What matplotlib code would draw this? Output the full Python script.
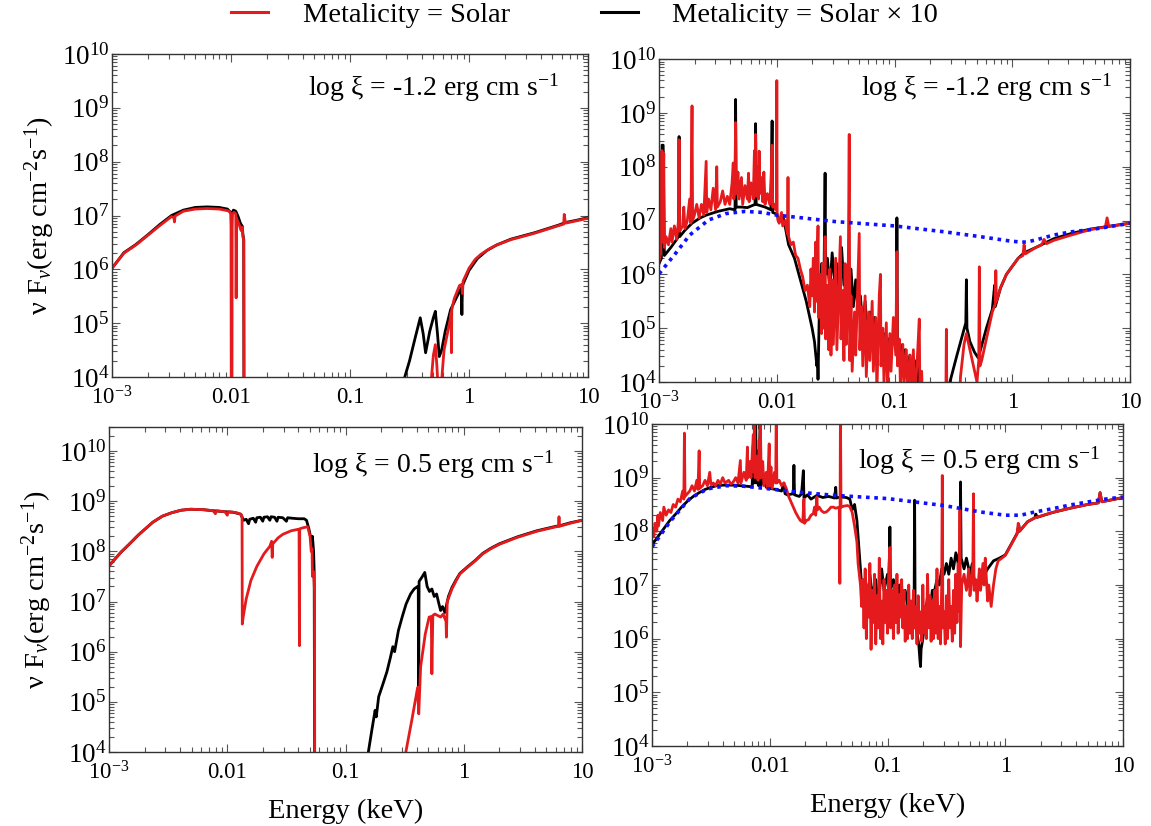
import numpy as np
import matplotlib
matplotlib.use('Agg')
import matplotlib.pyplot as plt
from matplotlib.lines import Line2D
from matplotlib.ticker import FixedLocator, FixedFormatter, LogLocator, LogFormatterMathtext, NullFormatter

plt.rcParams['font.family'] = 'Liberation Serif'
plt.rcParams['mathtext.fontset'] = 'custom'
plt.rcParams['mathtext.rm'] = 'Liberation Serif'
plt.rcParams['mathtext.it'] = 'Liberation Serif:italic'

# points: (log10 E [keV], log10 nuFnu); 2.0 = off the bottom of the plot
tl_x10 = [(-3.0, 6.02), (-2.9, 6.31), (-2.8, 6.46), (-2.7, 6.64), (-2.6, 6.83), (-2.5, 7.0), (-2.4, 7.1),
          (-2.3, 7.15), (-2.2, 7.16), (-2.1, 7.15), (-2.03, 7.12), (-2.0, 7.05), (-1.996, 6.74), (-1.99, 7.05),
          (-1.98, 7.1), (-1.96, 7.08), (-1.94, 6.98), (-1.92, 6.85), (-1.905, 6.8), (-1.9, 6.65), (-1.893, 6.55),
          (-1.89, 2.0), (-0.55, 2.0), (-0.54, 4.0), (-0.5, 4.3), (-0.45, 4.75), (-0.41, 5.1), (-0.385, 4.8),
          (-0.365, 4.45), (-0.33, 4.85), (-0.3, 5.1), (-0.283, 5.22), (-0.265, 4.8), (-0.25, 4.38), (-0.23, 4.5),
          (-0.2, 4.85), (-0.155, 5.25), (-0.1, 5.5), (-0.065, 5.65), (-0.06, 5.16), (-0.055, 5.7), (0.0, 5.98),
          (0.07, 6.2), (0.15, 6.35), (0.23, 6.45), (0.35, 6.56), (0.45, 6.62), (0.55, 6.68), (0.65, 6.75),
          (0.75, 6.82), (0.81, 6.87), (0.9, 6.91), (1.0, 6.96)]
tl_solar = [(-3.0, 6.02), (-2.9, 6.3), (-2.8, 6.45), (-2.7, 6.63), (-2.6, 6.81), (-2.5, 6.98), (-2.48, 6.96),
            (-2.475, 6.88), (-2.47, 6.99), (-2.4, 7.08), (-2.3, 7.12), (-2.2, 7.13), (-2.1, 7.12), (-2.03, 7.09),
            (-2.01, 7.07), (-2.0, 7.02), (-1.997, 2.0), (-1.993, 2.0), (-1.99, 7.02), (-1.975, 7.06), (-1.96, 7.03),
            (-1.957, 5.47), (-1.953, 6.95), (-1.945, 6.9), (-1.93, 6.82), (-1.915, 6.72), (-1.905, 6.78),
            (-1.9, 6.6), (-1.893, 6.55), (-1.89, 2.0), (-0.32, 2.0), (-0.315, 4.0), (-0.3, 4.4), (-0.283, 4.6),
            (-0.27, 4.2), (-0.255, 3.6), (-0.235, 3.8), (-0.21, 4.5), (-0.187, 4.75), (-0.16, 5.05), (-0.15, 5.2),
            (-0.148, 4.45), (-0.145, 5.25), (-0.125, 5.45), (-0.107, 5.55), (-0.08, 5.7), (-0.06, 5.72),
            (-0.055, 5.55), (-0.05, 5.78), (0.0, 6.02), (0.05, 6.18), (0.1, 6.28), (0.17, 6.38), (0.23, 6.45),
            (0.35, 6.55), (0.45, 6.61), (0.55, 6.67), (0.65, 6.74), (0.75, 6.81), (0.795, 6.84), (0.8, 7.02),
            (0.81, 6.86), (0.815, 6.86), (0.9, 6.9), (1.0, 6.95)]

tr_incident = [(-3.0, 6.01), (-2.86, 6.39), (-2.74, 6.73), (-2.58, 7.01), (-2.43, 7.13), (-2.27, 7.17),
               (-2.12, 7.15), (-2.0, 7.1), (-1.87, 7.07), (-1.5, 6.98), (-1.0, 6.9), (-0.575, 6.79), (-0.27, 6.7),
               (-0.02, 6.62), (0.07, 6.6), (0.12, 6.6), (0.2, 6.64), (0.35, 6.73), (0.5, 6.79), (0.66, 6.83),
               (0.81, 6.88), (1.0, 6.95)]
tr_x10 = [(-3.0, 6.2), (-2.98, 6.3), (-2.975, 8.4), (-2.965, 8.4), (-2.955, 6.35), (-2.9, 6.5), (-2.86, 6.62),
          (-2.835, 6.7), (-2.83, 8.56), (-2.825, 6.7), (-2.78, 6.82), (-2.72, 6.95), (-2.65, 7.05), (-2.6, 7.1),
          (-2.5, 7.17), (-2.4, 7.22), (-2.355, 7.2), (-2.35, 9.25), (-2.345, 7.25), (-2.3, 7.25), (-2.25, 7.24),
          (-2.185, 7.3), (-2.18, 8.8), (-2.175, 7.3), (-2.1, 7.25), (-2.05, 7.2), (-2.04, 8.85), (-2.035, 7.15),
          (-2.0, 7.12), (-1.98, 7.0), (-1.95, 7.1), (-1.93, 6.9), (-1.9, 6.55), (-1.85, 6.3), (-1.8, 5.9),
          (-1.75, 5.5), (-1.7, 5.0), (-1.68, 4.75), (-1.66, 4.3), (-1.655, 4.5), (-1.65, 4.05), (-1.64, 5.2),
          (-1.62, 6.2), (-1.6, 5.8), (-1.59, 7.88), (-1.585, 6.0), (-1.57, 6.3), (-1.55, 5.7), (-1.53, 6.4),
          (-1.51, 5.9), (-1.49, 6.2), (-1.47, 5.6), (-1.45, 6.5), (-1.43, 5.8), (-1.41, 6.0), (-1.39, 5.5),
          (-1.37, 6.1), (-1.35, 5.4), (-1.33, 5.9), (-1.31, 5.3), (-1.29, 5.6), (-1.27, 5.0), (-1.25, 5.5),
          (-1.23, 4.9), (-1.21, 5.3), (-1.19, 4.8), (-1.17, 5.2), (-1.15, 4.7), (-1.13, 5.0), (-1.11, 4.6),
          (-1.09, 4.9), (-1.07, 4.5), (-1.05, 4.8), (-1.03, 4.6), (-1.0, 4.9), (-0.985, 4.7), (-0.98, 7.05),
          (-0.975, 4.6), (-0.95, 4.7), (-0.93, 4.3), (-0.91, 4.6), (-0.89, 4.2), (-0.87, 4.5), (-0.85, 4.0),
          (-0.83, 4.4), (-0.81, 3.9), (-0.8, 4.3), (-0.785, 3.8), (-0.78, 3.5), (-0.54, 3.5), (-0.53, 4.0),
          (-0.47, 4.5), (-0.42, 4.9), (-0.395, 5.1), (-0.39, 5.9), (-0.385, 5.0), (-0.36, 4.75), (-0.32, 4.55),
          (-0.29, 4.45), (-0.27, 4.6), (-0.22, 5.0), (-0.17, 5.35), (-0.15, 5.8), (-0.145, 5.4), (-0.1, 5.75),
          (-0.05, 6.0), (0.0, 6.15), (0.05, 6.3), (0.1, 6.4), (0.2, 6.5), (0.35, 6.66), (0.5, 6.76), (0.66, 6.84),
          (0.81, 6.89), (1.0, 6.95)]
tr_solar = [(-3.0, 6.25), (-2.985, 6.4), (-2.98, 8.2), (-2.975, 8.3), (-2.97, 6.6), (-2.96, 8.25), (-2.955, 6.5),
            (-2.94, 6.7), (-2.92, 6.55), (-2.9, 6.85), (-2.89, 6.6), (-2.87, 6.9), (-2.85, 6.65), (-2.835, 7.0),
            (-2.83, 8.5), (-2.825, 6.8), (-2.8, 6.9), (-2.79, 7.25), (-2.78, 6.85), (-2.76, 7.0), (-2.74, 7.4),
            (-2.73, 6.95), (-2.72, 9.13), (-2.715, 7.0), (-2.7, 7.1), (-2.68, 7.3), (-2.66, 7.05), (-2.64, 7.3),
            (-2.62, 7.1), (-2.6, 8.1), (-2.595, 7.15), (-2.58, 7.4), (-2.56, 7.2), (-2.54, 7.6), (-2.52, 7.2),
            (-2.51, 8.0), (-2.505, 7.25), (-2.48, 7.35), (-2.46, 7.55), (-2.44, 7.3), (-2.42, 7.45), (-2.4, 7.3),
            (-2.38, 7.7), (-2.37, 8.07), (-2.365, 7.4), (-2.355, 7.6), (-2.35, 8.82), (-2.345, 7.5), (-2.33, 7.9),
            (-2.32, 7.4), (-2.3, 7.8), (-2.29, 7.3), (-2.27, 7.65), (-2.25, 7.4), (-2.24, 7.88), (-2.235, 7.35),
            (-2.22, 7.7), (-2.2, 7.4), (-2.19, 8.3), (-2.185, 7.5), (-2.18, 8.6), (-2.175, 7.45), (-2.16, 8.0),
            (-2.155, 7.4), (-2.15, 8.29), (-2.145, 7.5), (-2.13, 7.8), (-2.12, 7.35), (-2.11, 7.9), (-2.1, 7.3),
            (-2.08, 7.5), (-2.06, 7.3), (-2.05, 7.7), (-2.04, 8.4), (-2.035, 7.25), (-2.02, 7.3), (-2.01, 7.2),
            (-2.003, 7.4), (-2.0, 9.6), (-1.997, 7.1), (-1.99, 7.0), (-1.98, 6.95), (-1.96, 7.15), (-1.95, 6.9),
            (-1.93, 7.0), (-1.91, 6.75), (-1.905, 7.8), (-1.9, 6.7), (-1.88, 6.55), (-1.86, 6.6), (-1.84, 6.35),
            (-1.82, 6.3), (-1.8, 6.1), (-1.78, 5.95), (-1.76, 5.7), (-1.74, 5.8), (-1.72, 5.4), (-1.71, 6.1),
            (-1.7, 5.6), (-1.69, 6.3), (-1.68, 5.3), (-1.67, 6.6), (-1.665, 5.5), (-1.65, 6.9), (-1.645, 5.2),
            (-1.63, 6.0), (-1.62, 4.9), (-1.61, 6.2), (-1.6, 5.0), (-1.59, 6.7), (-1.585, 4.8), (-1.57, 5.8),
            (-1.56, 4.6), (-1.55, 6.1), (-1.54, 4.5), (-1.53, 5.9), (-1.52, 4.7), (-1.5, 6.3), (-1.49, 4.6),
            (-1.47, 6.0), (-1.46, 6.7), (-1.455, 4.8), (-1.44, 5.7), (-1.43, 4.4), (-1.42, 6.2), (-1.41, 4.7),
            (-1.395, 5.5), (-1.385, 8.6), (-1.38, 4.4), (-1.37, 5.6), (-1.36, 4.2), (-1.34, 5.3), (-1.33, 4.5),
            (-1.31, 6.0), (-1.3, 6.76), (-1.295, 4.6), (-1.28, 5.4), (-1.27, 4.3), (-1.25, 5.6), (-1.24, 4.1),
            (-1.22, 5.3), (-1.21, 4.4), (-1.19, 5.5), (-1.18, 4.2), (-1.16, 5.2), (-1.15, 3.8), (-1.13, 5.6),
            (-1.12, 6.0), (-1.115, 4.3), (-1.1, 5.0), (-1.09, 4.0), (-1.07, 5.1), (-1.06, 3.9), (-1.04, 4.9),
            (-1.03, 4.2), (-1.01, 5.2), (-0.99, 4.5), (-0.98, 6.42), (-0.975, 4.3), (-0.96, 4.8), (-0.95, 3.9),
            (-0.93, 4.7), (-0.92, 4.0), (-0.9, 4.6), (-0.89, 3.8), (-0.87, 4.5), (-0.86, 3.9), (-0.84, 4.6),
            (-0.83, 3.7), (-0.81, 4.3), (-0.79, 5.17), (-0.785, 3.8), (-0.77, 4.2), (-0.76, 3.5), (-0.565, 3.5),
            (-0.56, 4.98), (-0.555, 3.5), (-0.45, 3.5), (-0.44, 4.1), (-0.41, 4.7), (-0.39, 4.9), (-0.37, 4.7),
            (-0.34, 4.4), (-0.3, 4.0), (-0.285, 4.4), (-0.28, 6.14), (-0.275, 4.3), (-0.26, 4.4), (-0.23, 4.7),
            (-0.2, 5.0), (-0.17, 5.3), (-0.145, 5.45), (-0.14, 6.07), (-0.135, 5.5), (-0.1, 5.75), (-0.05, 6.0),
            (0.0, 6.15), (0.05, 6.3), (0.09, 6.35), (0.1, 6.55), (0.11, 6.38), (0.2, 6.5), (0.25, 6.55),
            (0.27, 6.65), (0.29, 6.57), (0.35, 6.63), (0.5, 6.73), (0.66, 6.83), (0.79, 6.88), (0.805, 7.05),
            (0.82, 6.89), (1.0, 6.95)]

bl_x10 = [(-3.0, 7.71), (-2.9, 7.98), (-2.83, 8.14), (-2.75, 8.33), (-2.63, 8.58), (-2.55, 8.7), (-2.47, 8.77),
          (-2.39, 8.82), (-2.31, 8.84), (-2.2, 8.83), (-2.12, 8.81), (-2.02, 8.79), (-1.95, 8.78), (-1.885, 8.74),
          (-1.875, 8.68), (-1.86, 8.62), (-1.84, 8.64), (-1.82, 8.55), (-1.81, 8.64), (-1.78, 8.66), (-1.76, 8.58),
          (-1.75, 8.67), (-1.72, 8.68), (-1.7, 8.6), (-1.69, 8.68), (-1.66, 8.69), (-1.64, 8.62), (-1.63, 8.69),
          (-1.6, 8.68), (-1.58, 8.6), (-1.57, 8.68), (-1.53, 8.67), (-1.5, 8.6), (-1.49, 8.67), (-1.45, 8.66),
          (-1.4, 8.65), (-1.35, 8.65), (-1.33, 8.62), (-1.31, 8.45), (-1.3, 8.34), (-1.29, 8.2), (-1.28, 8.3),
          (-1.27, 8.0), (-1.265, 7.6), (-1.26, 2.0), (-0.81, 2.0), (-0.807, 4.0), (-0.78, 4.4), (-0.75, 4.83),
          (-0.74, 4.7), (-0.72, 5.1), (-0.683, 5.36), (-0.65, 5.6), (-0.62, 5.89), (-0.6, 6.1), (-0.585, 6.0),
          (-0.553, 6.42), (-0.52, 6.7), (-0.488, 6.95), (-0.45, 7.15), (-0.42, 7.25), (-0.39, 7.3), (-0.385, 7.3),
          (-0.382, 5.0), (-0.378, 7.4), (-0.35, 7.5), (-0.33, 7.58), (-0.31, 7.3), (-0.29, 7.2), (-0.27, 7.25),
          (-0.25, 7.1), (-0.23, 7.15), (-0.21, 6.95), (-0.196, 6.82), (-0.18, 6.9), (-0.16, 6.78), (-0.13, 7.1),
          (-0.1, 7.28), (-0.066, 7.43), (-0.033, 7.56), (0.03, 7.69), (0.097, 7.82), (0.16, 7.96), (0.227, 8.06),
          (0.3, 8.15), (0.454, 8.29), (0.617, 8.41), (0.78, 8.5), (0.81, 8.51), (0.9, 8.57), (1.0, 8.62)]
bl_solar = [(-3.0, 7.71), (-2.9, 7.98), (-2.83, 8.14), (-2.75, 8.33), (-2.63, 8.58), (-2.55, 8.7), (-2.47, 8.77),
            (-2.39, 8.82), (-2.31, 8.84), (-2.2, 8.83), (-2.12, 8.81), (-2.1, 8.75), (-2.09, 8.81), (-2.02, 8.79),
            (-2.0, 8.72), (-1.99, 8.79), (-1.95, 8.78), (-1.92, 8.77), (-1.885, 8.74), (-1.875, 8.7),
            (-1.873, 6.55), (-1.865, 6.7), (-1.84, 7.05), (-1.8, 7.42), (-1.75, 7.7), (-1.69, 7.95), (-1.64, 8.1),
            (-1.625, 8.2), (-1.62, 7.88), (-1.615, 8.15), (-1.57, 8.27), (-1.53, 8.34), (-1.46, 8.41),
            (-1.4, 8.44), (-1.393, 8.44), (-1.39, 6.12), (-1.387, 8.45), (-1.36, 8.47), (-1.32, 8.49),
            (-1.3, 8.3), (-1.29, 8.0), (-1.283, 8.05), (-1.28, 7.5), (-1.27, 7.6), (-1.262, 7.2), (-1.26, 2.0),
            (-0.49, 2.0), (-0.49, 4.0), (-0.44, 4.63), (-0.39, 5.29), (-0.381, 4.76), (-0.365, 5.7),
            (-0.326, 6.35), (-0.293, 6.69), (-0.275, 6.7), (-0.27, 5.56), (-0.262, 6.72), (-0.245, 6.75),
            (-0.22, 6.72), (-0.196, 6.69), (-0.175, 6.75), (-0.15, 6.6), (-0.147, 6.29), (-0.14, 7.0),
            (-0.1, 7.25), (-0.066, 7.41), (-0.033, 7.55), (0.03, 7.68), (0.097, 7.81), (0.16, 7.95),
            (0.227, 8.05), (0.3, 8.14), (0.454, 8.28), (0.617, 8.4), (0.78, 8.49), (0.8, 8.5), (0.805, 8.69),
            (0.81, 8.5), (0.9, 8.56), (1.0, 8.62)]

br_incident = [(-3.0, 7.71), (-2.84, 8.2), (-2.68, 8.61), (-2.53, 8.79), (-2.37, 8.85), (-2.22, 8.84),
               (-2.0, 8.79), (-1.76, 8.73), (-1.45, 8.67), (-1.0, 8.61), (-0.52, 8.48), (-0.21, 8.36),
               (0.0, 8.3), (0.13, 8.3), (0.25, 8.36), (0.4, 8.42), (0.55, 8.49), (0.71, 8.55), (0.85, 8.6),
               (1.0, 8.64)]
br_x10 = [(-3.0, 7.75), (-2.95, 7.9), (-2.9, 8.05), (-2.85, 8.2), (-2.8, 8.32), (-2.75, 8.45), (-2.7, 8.56),
          (-2.65, 8.65), (-2.6, 8.72), (-2.55, 8.78), (-2.5, 8.82), (-2.45, 8.85), (-2.4, 8.86), (-2.3, 8.86),
          (-2.2, 8.84), (-2.15, 8.83), (-2.14, 9.6), (-2.135, 8.9), (-2.12, 10.2), (-2.115, 8.9), (-2.1, 9.5),
          (-2.095, 8.85), (-2.08, 10.2), (-2.075, 8.85), (-2.05, 9.0), (-2.03, 8.82), (-2.0, 8.8), (-1.95, 8.78),
          (-1.9, 8.75), (-1.88, 8.9), (-1.87, 8.7), (-1.85, 8.68), (-1.8, 8.7), (-1.795, 9.23), (-1.79, 8.68),
          (-1.75, 8.65), (-1.73, 8.7), (-1.715, 9.13), (-1.71, 8.62), (-1.68, 8.68), (-1.65, 8.6), (-1.6, 8.67),
          (-1.55, 8.63), (-1.5, 8.65), (-1.45, 8.62), (-1.44, 8.82), (-1.435, 8.62), (-1.4, 8.64),
          (-1.35, 8.63), (-1.32, 8.6), (-1.3, 8.4), (-1.28, 8.5), (-1.26, 8.2), (-1.24, 7.6), (-1.22, 7.0),
          (-1.2, 6.8), (-1.19, 7.0), (-1.17, 6.7), (-1.15, 7.2), (-1.13, 6.8), (-1.1, 7.1), (-1.08, 6.6),
          (-1.05, 7.3), (-1.03, 6.9), (-1.0, 7.2), (-0.985, 7.0), (-0.98, 8.08), (-0.975, 6.9), (-0.95, 7.1),
          (-0.92, 6.8), (-0.9, 7.0), (-0.87, 6.6), (-0.85, 6.9), (-0.82, 6.5), (-0.8, 6.7), (-0.775, 6.4),
          (-0.77, 8.58), (-0.765, 6.3), (-0.75, 6.1), (-0.735, 5.9), (-0.725, 5.6), (-0.72, 5.48), (-0.715, 5.8),
          (-0.7, 6.0), (-0.68, 6.4), (-0.66, 6.8), (-0.64, 6.5), (-0.62, 6.9), (-0.6, 6.9), (-0.58, 7.1),
          (-0.56, 7.0), (-0.54, 7.3), (-0.52, 7.2), (-0.5, 7.4), (-0.48, 7.2), (-0.46, 7.5), (-0.44, 7.3),
          (-0.42, 7.6), (-0.4, 7.4), (-0.385, 7.7), (-0.38, 8.92), (-0.375, 7.5), (-0.35, 7.3), (-0.33, 7.5),
          (-0.3, 7.2), (-0.28, 7.4), (-0.26, 7.0), (-0.24, 6.9), (-0.22, 7.1), (-0.2, 7.1), (-0.15, 7.3),
          (-0.1, 7.45), (-0.05, 7.5), (0.0, 7.56), (0.05, 7.76), (0.1, 7.96), (0.115, 8.12), (0.12, 8.0),
          (0.19, 8.18), (0.25, 8.25), (0.26, 8.32), (0.27, 8.26), (0.4, 8.35), (0.55, 8.43), (0.7, 8.5),
          (0.79, 8.53), (0.805, 8.72), (0.82, 8.55), (1.0, 8.63)]
br_solar = [(-3.0, 7.95), (-2.99, 8.05), (-2.985, 7.9), (-2.975, 8.15), (-2.96, 8.0), (-2.95, 8.3),
            (-2.945, 8.1), (-2.93, 8.35), (-2.91, 8.2), (-2.9, 8.45), (-2.88, 8.3), (-2.86, 8.4), (-2.84, 8.35),
            (-2.82, 8.5), (-2.8, 8.45), (-2.78, 8.6), (-2.76, 8.55), (-2.74, 8.75), (-2.73, 8.6), (-2.725, 9.83),
            (-2.72, 8.65), (-2.7, 8.7), (-2.68, 8.75), (-2.66, 8.85), (-2.64, 8.75), (-2.62, 8.95), (-2.61, 8.78),
            (-2.6, 9.5), (-2.595, 8.8), (-2.57, 8.85), (-2.55, 8.95), (-2.53, 8.85), (-2.51, 9.1), (-2.5, 8.87),
            (-2.48, 8.9), (-2.46, 8.85), (-2.44, 8.95), (-2.42, 8.88), (-2.4, 9.0), (-2.38, 8.9), (-2.35, 8.95),
            (-2.33, 8.88), (-2.31, 8.92), (-2.29, 9.0), (-2.27, 8.9), (-2.25, 9.32), (-2.245, 8.9), (-2.22, 9.1),
            (-2.2, 8.95), (-2.19, 9.57), (-2.185, 9.0), (-2.17, 9.3), (-2.16, 9.0), (-2.14, 9.8), (-2.135, 9.1),
            (-2.13, 10.3), (-2.125, 9.0), (-2.11, 9.4), (-2.1, 8.95), (-2.09, 9.7), (-2.085, 9.0), (-2.08, 10.3),
            (-2.075, 9.0), (-2.06, 9.3), (-2.05, 8.85), (-2.03, 9.1), (-2.02, 8.8), (-2.005, 9.63), (-2.0, 8.85),
            (-1.99, 9.2), (-1.98, 8.8), (-1.96, 9.1), (-1.95, 8.9), (-1.945, 10.3), (-1.94, 8.9), (-1.92, 8.95),
            (-1.9, 8.85), (-1.88, 8.9), (-1.86, 8.8), (-1.84, 8.65), (-1.82, 8.55), (-1.8, 8.45), (-1.78, 8.35),
            (-1.76, 8.27), (-1.74, 8.2), (-1.72, 8.17), (-1.71, 8.6), (-1.705, 8.15), (-1.69, 8.2),
            (-1.67, 8.22), (-1.65, 8.3), (-1.63, 8.33), (-1.62, 8.45), (-1.61, 8.3), (-1.6, 8.64),
            (-1.595, 8.4), (-1.58, 8.45), (-1.56, 8.38), (-1.54, 8.35), (-1.52, 8.36), (-1.5, 8.4),
            (-1.48, 8.45), (-1.46, 8.45), (-1.44, 8.43), (-1.41, 8.45), (-1.405, 7.03), (-1.4, 10.3),
            (-1.395, 8.45), (-1.37, 8.47), (-1.34, 8.48), (-1.32, 8.46), (-1.3, 8.35), (-1.28, 8.1),
            (-1.26, 7.8), (-1.25, 7.4), (-1.23, 7.0), (-1.22, 6.6), (-1.21, 7.1), (-1.2, 6.2), (-1.19, 7.3),
            (-1.18, 6.0), (-1.17, 7.0), (-1.16, 6.4), (-1.15, 7.4), (-1.14, 5.8), (-1.13, 6.9), (-1.12, 6.3),
            (-1.11, 7.2), (-1.1, 5.9), (-1.09, 6.8), (-1.08, 6.2), (-1.07, 7.5), (-1.06, 6.0), (-1.05, 6.7),
            (-1.04, 5.9), (-1.03, 7.1), (-1.02, 6.3), (-1.01, 6.9), (-1.0, 6.1), (-0.99, 7.3), (-0.98, 7.7),
            (-0.975, 6.2), (-0.96, 6.9), (-0.95, 6.0), (-0.94, 7.0), (-0.93, 6.3), (-0.92, 7.2), (-0.91, 6.1),
            (-0.9, 6.8), (-0.89, 6.4), (-0.88, 7.1), (-0.87, 6.2), (-0.86, 6.9), (-0.85, 5.95), (-0.84, 6.6),
            (-0.83, 6.0), (-0.82, 7.0), (-0.81, 6.1), (-0.8, 6.7), (-0.79, 6.0), (-0.78, 6.9), (-0.77, 6.2),
            (-0.76, 6.6), (-0.75, 5.9), (-0.74, 6.8), (-0.73, 6.1), (-0.72, 6.5), (-0.71, 5.95), (-0.7, 7.0),
            (-0.69, 6.1), (-0.68, 6.6), (-0.67, 6.0), (-0.66, 7.2), (-0.65, 6.2), (-0.64, 6.8), (-0.63, 5.95),
            (-0.62, 6.7), (-0.61, 6.0), (-0.6, 6.9), (-0.59, 6.1), (-0.58, 7.3), (-0.57, 6.0), (-0.56, 6.6),
            (-0.55, 5.9), (-0.54, 7.0), (-0.535, 9.04), (-0.53, 6.2), (-0.52, 6.5), (-0.51, 5.9), (-0.5, 6.8),
            (-0.49, 6.0), (-0.48, 7.1), (-0.47, 6.2), (-0.46, 6.6), (-0.45, 5.95), (-0.44, 6.9), (-0.43, 6.1),
            (-0.42, 7.2), (-0.41, 6.3), (-0.4, 7.4), (-0.39, 6.5), (-0.385, 8.39), (-0.38, 5.85), (-0.37, 7.0),
            (-0.35, 7.2), (-0.33, 6.9), (-0.31, 7.3), (-0.3, 6.8), (-0.29, 7.0), (-0.275, 7.4), (-0.27, 8.7),
            (-0.265, 6.9), (-0.25, 7.1), (-0.24, 6.7), (-0.22, 7.3), (-0.21, 6.9), (-0.19, 7.4), (-0.18, 7.0),
            (-0.17, 7.5), (-0.15, 6.7), (-0.14, 7.0), (-0.12, 6.6), (-0.1, 7.0), (-0.08, 7.3), (-0.06, 7.45),
            (-0.03, 7.5), (0.0, 7.55), (0.05, 7.75), (0.1, 7.95), (0.11, 8.15), (0.12, 8.0), (0.19, 8.18),
            (0.25, 8.25), (0.4, 8.35), (0.55, 8.43), (0.7, 8.5), (0.79, 8.53), (0.805, 8.72), (0.82, 8.55),
            (1.0, 8.63)]

xtick_vals = [1e-3, 1e-2, 1e-1, 1, 10]
xtick_labels = ['$10^{-3}$', '0.01', '0.1', '1', '10']
annot = ['log ξ = -1.2 erg cm s$^{-1}$', 'log ξ = -1.2 erg cm s$^{-1}$',
         'log ξ = 0.5 erg cm s$^{-1}$', 'log ξ = 0.5 erg cm s$^{-1}$']

RED = '#e41a1c'
BLUE = '#1010ff'


def curve(pts):
    a = np.array(pts, dtype=float)
    return 10 ** a[:, 0], 10 ** a[:, 1]


fig = plt.figure(figsize=(11.51, 8.26), dpi=100)
axes = [fig.add_axes([0.0973, 0.5436, 0.4136, 0.391]),
        fig.add_axes([0.5726, 0.5375, 0.4092, 0.391]),
        fig.add_axes([0.0947, 0.0896, 0.4110, 0.3935]),
        fig.add_axes([0.5665, 0.0969, 0.4092, 0.3898])]
ylims = [(1e4, 1e10), (1e4, 1e10), (1e4, 10 ** 10.48), (1e4, 1e10)]
panels = [(tl_x10, tl_solar, None), (tr_x10, tr_solar, tr_incident),
          (bl_x10, bl_solar, None), (br_x10, br_solar, br_incident)]
annot_pos = [(0.94, 0.895), (0.961, 0.91), (0.941, 0.885), (0.951, 0.887)]

for i, ax in enumerate(axes):
    x10, sol, inc = panels[i]
    ax.plot(*curve(x10), color='black', lw=2.0)
    ax.plot(*curve(sol), color=RED, lw=2.0)
    if inc is not None:
        ax.plot(*curve(inc), color=BLUE, lw=2.6, ls=(0, (1, 1.3)))
    ax.set_xscale('log')
    ax.set_yscale('log')
    ax.set_xlim(1e-3, 10)
    ax.set_ylim(*ylims[i])
    ax.xaxis.set_major_locator(FixedLocator(xtick_vals))
    ax.xaxis.set_major_formatter(FixedFormatter(xtick_labels))
    ax.xaxis.set_minor_locator(LogLocator(base=10, subs=np.arange(2, 10), numticks=20))
    ax.xaxis.set_minor_formatter(NullFormatter())
    ax.yaxis.set_major_locator(LogLocator(base=10, numticks=20))
    ax.yaxis.set_major_formatter(LogFormatterMathtext())
    ax.yaxis.set_minor_locator(LogLocator(base=10, subs=np.arange(2, 10), numticks=20))
    ax.yaxis.set_minor_formatter(NullFormatter())
    ax.tick_params(which='both', direction='in', top=True, right=True, color='#555555', width=0.8)
    ax.tick_params(which='major', length=6)
    ax.tick_params(which='minor', length=3.5)
    ax.tick_params(axis='x', labelsize=16.5, pad=7)
    ax.tick_params(axis='y', labelsize=19.5, pad=2)
    for s in ax.spines.values():
        s.set_color('#333333')
        s.set_linewidth(1.0)
    ax.text(annot_pos[i][0], annot_pos[i][1], annot[i], transform=ax.transAxes,
            ha='right', va='center', fontsize=20)

ylabel = 'ν F$_{\\nu}$(erg cm$^{-2}$s$^{-1}$)'
axes[0].set_ylabel(ylabel, fontsize=20.5, labelpad=3)
axes[2].set_ylabel(ylabel, fontsize=20.5, labelpad=3)
axes[2].set_xlabel('Energy (keV)', fontsize=20.5, labelpad=10)
axes[3].set_xlabel('Energy (keV)', fontsize=20.5, labelpad=10)

handles = [Line2D([], [], color=RED, lw=2.2), Line2D([], [], color='black', lw=2.2)]
fig.legend(handles, ['Metalicity = Solar', 'Metalicity = Solar × 10'], loc='center',
           bbox_to_anchor=(0.508, 0.982), ncol=2, frameon=False, fontsize=20.5,
           handlelength=1.3, handletextpad=1.2, columnspacing=3.2)

fig.savefig('out.png', dpi=100)
